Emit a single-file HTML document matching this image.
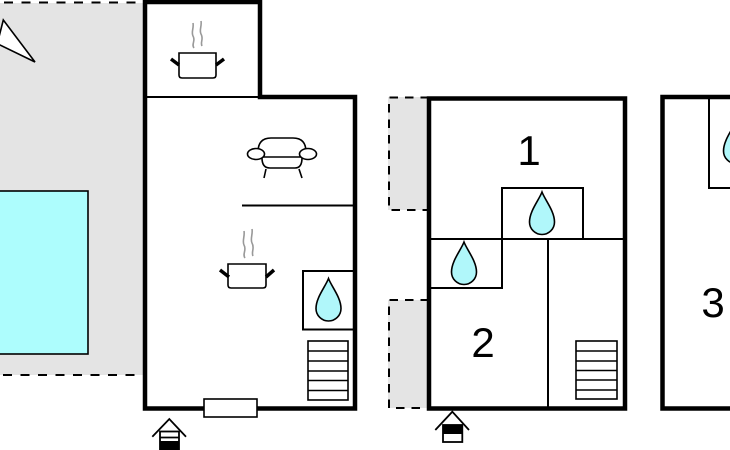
<!DOCTYPE html>
<html><head><meta charset="utf-8"><style>
html,body{margin:0;padding:0;background:#fff;}
svg{display:block;}
</style></head><body>
<svg width="730" height="450" viewBox="0 0 730 450" xmlns="http://www.w3.org/2000/svg">
<defs>
<path id="drop" d="M0,0 C-3,8 -12.5,19 -12.5,30 A12.5,12.5 0 0 0 12.5,30 C12.5,19 3,8 0,0 Z" fill="#b0f7fa" stroke="#000" stroke-width="1.6"/>
</defs>
<!-- left gray terrace -->
<rect x="0" y="3" width="145" height="372" fill="#e4e4e4"/>
<line x1="4" y1="2.5" x2="140" y2="2.5" stroke="#000" stroke-width="2" stroke-dasharray="9 8.5"/>
<line x1="3" y1="375" x2="140" y2="375" stroke="#000" stroke-width="2" stroke-dasharray="9 8.5"/>
<!-- pool -->
<rect x="-2" y="191" width="90" height="163" fill="#adfdfd" stroke="#000" stroke-width="1.6"/>
<!-- triangle -->
<polygon points="3.3,20 35,62 -2.7,43.7" fill="#fff" stroke="#000" stroke-width="1.6"/>

<!-- building 1 -->
<path d="M145,2 H260 V97 H355 V408.5 H145 Z" fill="#fff" stroke="#000" stroke-width="4.5"/>
<line x1="145" y1="97" x2="260" y2="97" stroke="#000" stroke-width="2"/>
<line x1="242" y1="205.5" x2="355" y2="205.5" stroke="#000" stroke-width="2"/>
<path d="M355,271 H303 V329.5 H355" fill="none" stroke="#000" stroke-width="2"/>
<!-- window -->
<rect x="204" y="399" width="53" height="18" fill="#fff" stroke="#000" stroke-width="1.6"/>
<!-- stairs b1 -->
<rect x="308" y="341" width="40" height="59" fill="#fff" stroke="#000" stroke-width="1.6"/>
<path d="M308,351 H348 M308,361 H348 M308,371 H348 M308,380.5 H348 M308,390.5 H348" stroke="#000" stroke-width="1.6"/>
<use href="#drop" x="328.5" y="278.5"/>
<!-- kitchen pot -->
<path d="M194,48 c-3,-4 2,-7 -1,-12 c-2,-4 1,-8 0,-13" fill="none" stroke="#999" stroke-width="1.6"/>
<path d="M202,46 c-2,-4 2,-7 -1,-12 c-2,-4 1,-8 0,-13" fill="none" stroke="#999" stroke-width="1.6"/>
<path d="M179,53 H216 V75 Q216,78 213,78 H182 Q179,78 179,75 Z" fill="#fff" stroke="#000" stroke-width="1.6"/>
<path d="M171,59 L179,65 M216,65 L224,59" stroke="#000" stroke-width="3.5"/>
<!-- pot 2 -->
<path d="M245,258 c-3,-4 2,-8 -1,-13 c-2,-4 1,-9 0,-14" fill="none" stroke="#999" stroke-width="1.6"/>
<path d="M253,256 c-2,-4 2,-8 -1,-13 c-2,-4 1,-9 0,-14" fill="none" stroke="#999" stroke-width="1.6"/>
<path d="M228,264 H266 V285 Q266,288 263,288 H231 Q228,288 228,285 Z" fill="#fff" stroke="#000" stroke-width="1.6"/>
<path d="M220,270 L229,277 M266,277 L274,270" stroke="#000" stroke-width="3.5"/>
<!-- sofa -->
<g fill="#fff" stroke="#000" stroke-width="1.6">
<path d="M258,152 Q258,138 271,138 H293 Q306,138 306,152"/>
<path d="M262,158 Q262,168 270,168 H295 Q302,168 302,158" fill="none"/>
<line x1="263" y1="157" x2="301" y2="157"/>
<ellipse cx="256" cy="154" rx="8.5" ry="5.5"/>
<ellipse cx="308" cy="154" rx="8.5" ry="5.5"/>
<path d="M266,169 L264,178 M299,169 L302,178" fill="none"/>
</g>
<!-- entrance 1 -->
<g stroke="#000" stroke-width="1.8" fill="none">
<path d="M152.3,436.7 L169.3,419 L186,436.7"/>
<rect x="160" y="431.5" width="19" height="20" fill="#fff"/>
<line x1="160" y1="437.5" x2="179" y2="437.5"/>
</g>
<rect x="160" y="441" width="19" height="10" fill="#000"/>

<!-- building 2 -->
<rect x="388" y="97" width="41" height="113" fill="#e4e4e4"/>
<rect x="388" y="300" width="41" height="108" fill="#e4e4e4"/>
<path d="M429,97.5 H389 V210 H429 M429,300 H389 V408 H429" fill="none" stroke="#000" stroke-width="2" stroke-dasharray="8.5 7"/>
<rect x="429" y="98.5" width="196" height="310" fill="#fff" stroke="#000" stroke-width="4.5"/>
<g fill="none" stroke="#000" stroke-width="2">
<path d="M429,239 H625"/>
<path d="M502,239 V188 H583 V239"/>
<path d="M429,288 H502 V239"/>
<path d="M548,239 V408"/>
</g>
<use href="#drop" x="542" y="192"/>
<use href="#drop" x="464" y="242"/>
<rect x="576" y="341" width="41" height="58" fill="#fff" stroke="#000" stroke-width="1.6"/>
<path d="M576,351 H617 M576,361 H617 M576,370.5 H617 M576,380 H617 M576,390 H617" stroke="#000" stroke-width="1.6"/>
<text x="529" y="165" font-family="Liberation Sans, Arial, sans-serif" font-size="42" text-anchor="middle" fill="#000">1</text>
<text x="483" y="357" font-family="Liberation Sans, Arial, sans-serif" font-size="42" text-anchor="middle" fill="#000">2</text>
<!-- entrance 2 -->
<g stroke="#000" stroke-width="1.8" fill="none">
<path d="M435.3,430 L452.3,411.7 L469,430"/>
<rect x="443" y="425" width="19.3" height="17" fill="#fff"/>
</g>
<rect x="443" y="425" width="19.3" height="9" fill="#000"/>

<!-- building 3 -->
<path d="M740,97 H662.5 V408.5 H740" fill="#fff" stroke="#000" stroke-width="4.5"/>
<path d="M709,97 V188 H740" fill="none" stroke="#000" stroke-width="2"/>
<use href="#drop" x="736" y="121"/>
<text x="713" y="317" font-family="Liberation Sans, Arial, sans-serif" font-size="42" text-anchor="middle" fill="#000">3</text>
</svg>
</body></html>
